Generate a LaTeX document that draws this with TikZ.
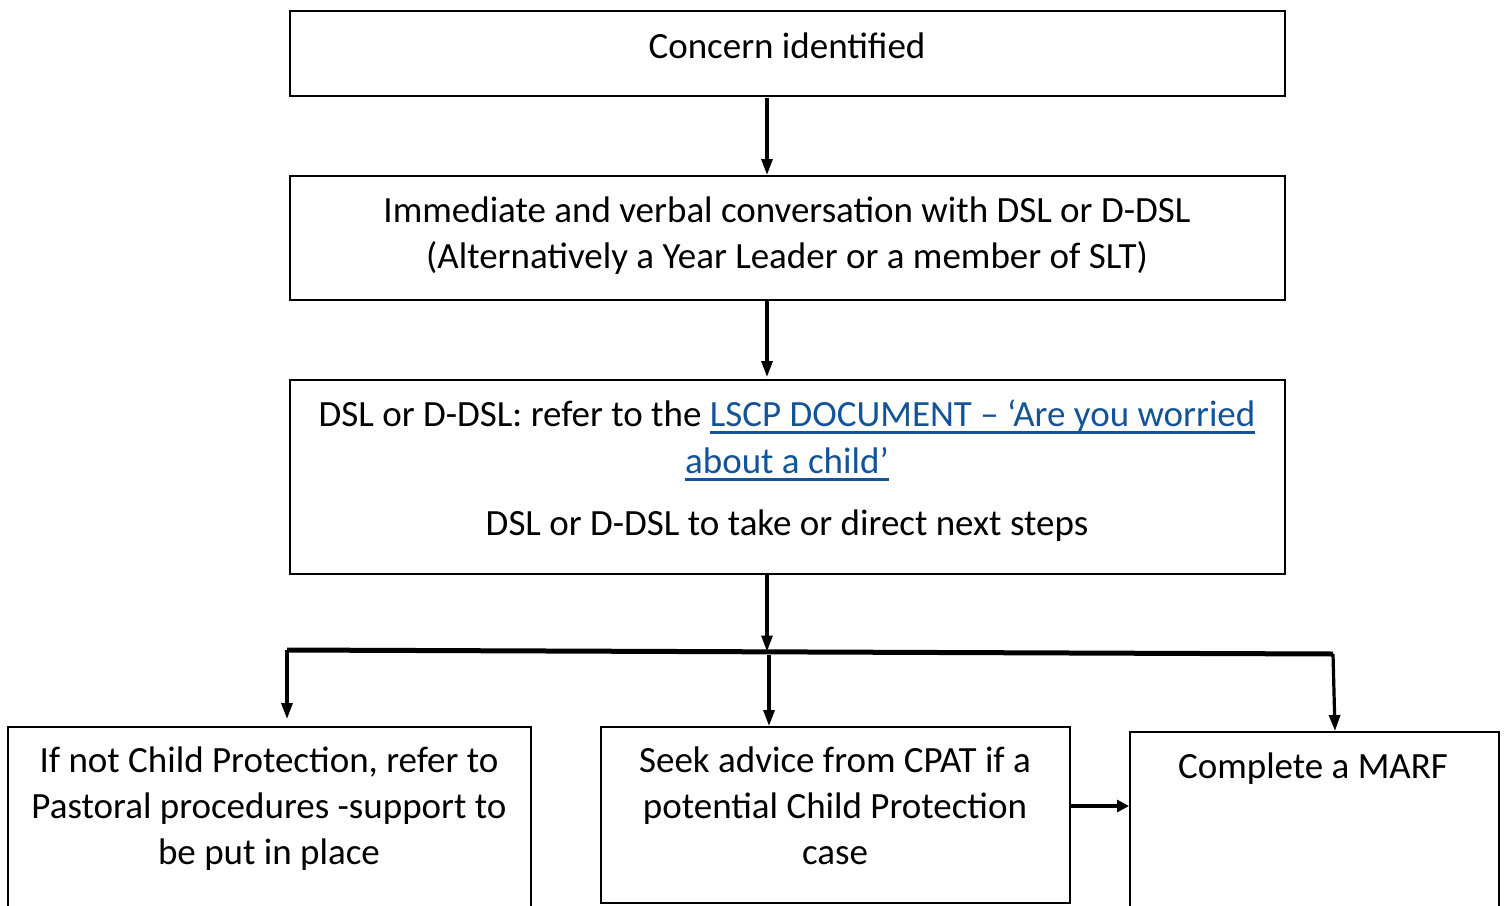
\documentclass[tikz,border=0pt]{standalone}
\usepackage{fontspec}
\setmainfont{Carlito}
\usetikzlibrary{arrows.meta}
\definecolor{linkblue}{RGB}{20,84,150}
\tikzset{
  box/.style={draw=black, line width=2pt, rectangle, inner sep=0pt},
  txt/.style={anchor=base, inner sep=0pt, font=\fontsize{37}{46}\selectfont},
  arr/.style={line width=3.2pt, -{Triangle[length=16pt,width=11pt]}},
  harr/.style={line width=4.5pt, -{Triangle[length=12pt,width=12pt]}},
  trunk/.style={line width=5pt}
}
\newlength{\lnkw}
\newcommand{\lnk}[1]{\settowidth{\lnkw}{#1}\rlap{\textcolor{linkblue}{#1}}\textcolor{linkblue}{\rule[-8pt]{\lnkw}{3pt}}}
\begin{document}
\begin{tikzpicture}[x=1pt,y=-1pt]
\useasboundingbox (0,0) rectangle (1507,905);
% boxes
\node[box, minimum width=995pt, minimum height=85pt] (b1) at (787.5,53.5) {};
\node[box, minimum width=995pt, minimum height=124pt] (b2) at (787.5,238) {};
\node[box, minimum width=995pt, minimum height=194pt] (b3) at (787.5,477) {};
\node[box, minimum width=523pt, minimum height=203pt] (b4) at (269.5,828.5) {};
\node[box, minimum width=469pt, minimum height=176pt] (b5) at (835.5,815) {};
\node[box, minimum width=369pt, minimum height=198pt] (b6) at (1314.5,831) {};
% texts
\node[txt] (t1) at (787,58) {Concern identified};
\node[txt] (t2a) at (787,222) {Immediate and verbal conversation with DSL or D-DSL};
\node[txt] (t2b) at (787,268) {(Alternatively a Year Leader or a member of SLT)};
\node[txt] (t3a) at (787,426) {DSL or D-DSL: refer to the \lnk{LSCP DOCUMENT – ‘Are you worried}};
\node[txt] (t3b) at (787,473) {\lnk{about a child’}};
\node[txt] (t3c) at (787,535) {DSL or D-DSL to take or direct next steps};
\node[txt] (t4a) at (269,772) {If not Child Protection, refer to};
\node[txt] (t4b) at (269,818) {Pastoral procedures -support to};
\node[txt] (t4c) at (269,864) {be put in place};
\node[txt] (t5a) at (835,772) {Seek advice from CPAT if a};
\node[txt] (t5b) at (835,818) {potential Child Protection};
\node[txt] (t5c) at (835,864) {case};
\node[txt] (t6) at (1313,778) {Complete a MARF};
% connectors
\coordinate (bl) at (287,650);
\coordinate (bm) at (767,651.5);
\coordinate (br) at (1333,654);
\coordinate (lt) at (287,719);
\coordinate (mt) at (769,655);
\coordinate (hs) at (1071,806);
\draw[arr] (767,98) -- (b2.north -| 767,0);
\draw[arr] (767,301) -- (767,377);
\draw[arr] (b3.south -| 767,0) -- (bm);
\draw[trunk] (bl) -- (br);
\draw[arr] (bl) -- (lt);
\draw[arr] (mt) -- (769,726);
\draw[arr] (br) -- (1335,731);
\draw[harr] (hs) -- (b6.west |- hs);
\end{tikzpicture}
\end{document}
